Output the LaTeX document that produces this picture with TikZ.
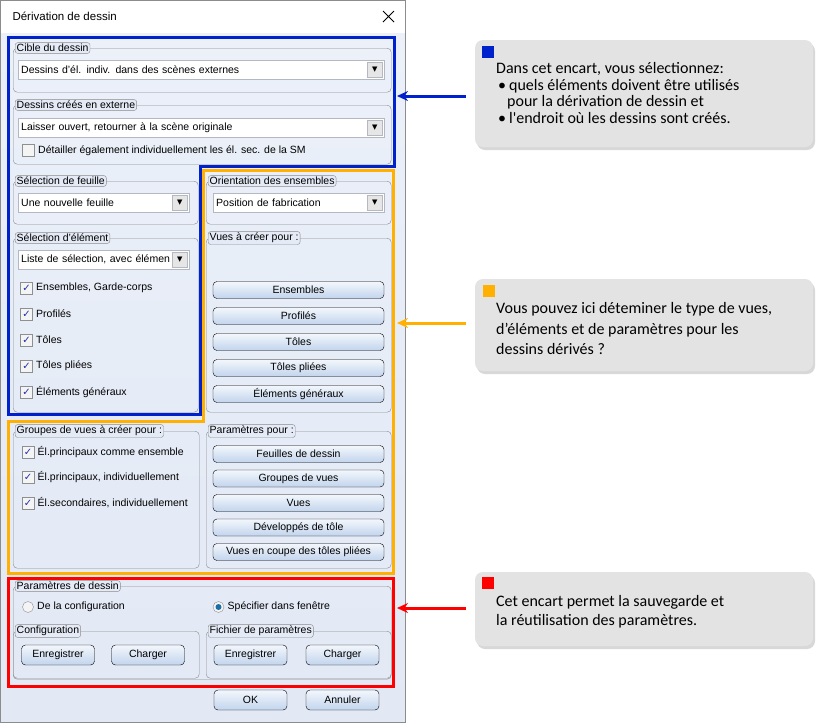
\documentclass[tikz,border=0pt]{standalone}
\usepackage{fontspec}
\setmainfont{Liberation Sans}
\newfontfamily\callfont{Carlito}
\newfontfamily\glyphfont{DejaVu Sans}
\usepackage{tikz}
\usetikzlibrary{shapes.geometric,arrows.meta,positioning,shadows}
\definecolor{hlblue}{HTML}{0022CC}
\definecolor{hlorange}{HTML}{FFB000}
\definecolor{hlred}{HTML}{FF0000}
\definecolor{wingray}{HTML}{8C8C8C}
\definecolor{framegray}{HTML}{8A8A8A}
\definecolor{bodytop}{HTML}{EBF0F9}
\definecolor{bodymid}{HTML}{D3DFF0}
\definecolor{bodybot}{HTML}{E2E9F5}
\definecolor{tabfill}{HTML}{E4EBF6}
\definecolor{combogray}{HTML}{B4B8C0}
\definecolor{ddfill}{HTML}{E6E6E6}
\definecolor{btntop}{HTML}{F3F7FC}
\definecolor{btnbot}{HTML}{C2D4ED}
\definecolor{chkgray}{HTML}{8E8F8F}
\definecolor{chkfill}{HTML}{F4F4F4}
\definecolor{chkblue}{HTML}{1E2FA8}
\definecolor{radioblue}{HTML}{1A6FA8}
\definecolor{callgray}{HTML}{E3E3E3}
\newcommand{\dlgsize}{\fontsize{10.5}{12}\selectfont}
\tikzstyle{dlgframe} = [rectangle, rounded corners=4pt, draw=framegray, anchor=north west, inner sep=0pt]
\tikzstyle{tab} = [rectangle, rounded corners=2.5pt, draw=framegray, fill=tabfill, anchor=west, inner xsep=1.5pt, inner ysep=1.5pt, font=\dlgsize]
\tikzstyle{combo} = [rectangle, draw=combogray, fill=white, anchor=north west, minimum height=19, inner xsep=3pt, align=left, font=\dlgsize]
\tikzstyle{ddbtn} = [rectangle, draw=combogray, fill=ddfill, minimum size=15, inner sep=0pt, font=\glyphfont\fontsize{7}{7}\selectfont]
\tikzstyle{lbl} = [font=\dlgsize]
\tikzstyle{chkbox} = [rectangle, draw=chkgray, fill=chkfill, minimum size=12, inner sep=0pt, label distance=0pt]
\tikzstyle{chkon} = [chkbox, text=chkblue, font=\glyphfont\fontsize{10}{10}\selectfont]
\tikzstyle{radio} = [circle, draw=chkgray, fill=chkfill, minimum size=11, inner sep=0pt]
\tikzstyle{radioon} = [radio, path picture={\fill[radioblue] (path picture bounding box.center) circle (3pt);}]
\tikzstyle{btn} = [rectangle, rounded corners=4pt, draw=black, top color=btntop, bottom color=btnbot, inner sep=0pt, font=\dlgsize]
\tikzstyle{vbtn} = [btn, minimum width=171, minimum height=17]
\tikzstyle{sbtn} = [btn, minimum width=73, minimum height=20]
\tikzstyle{hl} = [line width=3pt]
\tikzstyle{callout} = [rectangle, rounded corners=8pt, fill=callgray, minimum width=338, drop shadow={opacity=0.3, shadow xshift=2pt, shadow yshift=-3pt}]
\tikzstyle{marker} = [rectangle, minimum size=12, inner sep=0pt]
\tikzstyle{calltext} = [anchor=north west, align=left, inner sep=0pt, font=\callfont\fontsize{16}{16.7}\selectfont]
\tikzstyle{arrow} = [line width=3pt, ->, >={Stealth[length=11pt, width=10pt]}]

\begin{document}
\begin{tikzpicture}[x=1pt, y=-1pt, node distance=26pt]
\useasboundingbox (0,0) rectangle (823,724);
\fill [white] (0,0) rectangle (823,724);

% dialog window
\fill [top color=bodytop, middle color=bodymid, bottom color=bodybot] (1,33) rectangle (405,722);
\draw [wingray] (0.5,0.5) rectangle (405.5,722.5);
\node (title) [anchor=west, font=\fontsize{11.5}{13}\selectfont] at (9,16) {Dérivation de dessin};
\draw [line width=0.8pt] (383,11) -- (394,22) (383,22) -- (394,11);

% Cible du dessin
\node (fCible) [dlgframe, minimum width=378, minimum height=44] at (13,48) {};
\node (tCible) [tab] at ([xshift=2pt]fCible.north west) {Cible du dessin};
\node (cbCible) [combo, text width=360] at (18,60) {Dessins d’él. indiv. dans des scènes externes};
\node (ddCible) [ddbtn, left=2pt of cbCible.east] {▼};

% Dessins crees en externe
\node (fExterne) [dlgframe, minimum width=378, minimum height=59] at (13,105) {};
\node (tExterne) [tab] at ([xshift=2pt]fExterne.north west) {Dessins créés en externe};
\node (cbExterne) [combo, text width=360] at (18,118) {Laisser ouvert, retourner à la scène originale};
\node (ddExterne) [ddbtn, left=2pt of cbExterne.east] {▼};
\node (ckDetail) [chkbox, label={[lbl]right:Détailler également individuellement les él. sec. de la SM}] at (28.5,150.5) {};

% Selection de feuille / d'element
\node (fFeuille) [dlgframe, minimum width=185, minimum height=43] at (13,181) {};
\node (tFeuille) [tab] at ([xshift=2pt]fFeuille.north west) {Sélection de feuille};
\node (cbFeuille) [combo, text width=165] at (18,193) {Une nouvelle feuille};
\node (ddFeuille) [ddbtn, left=2pt of cbFeuille.east] {▼};

\node (fElement) [dlgframe, minimum width=185, minimum height=174] at (13,238) {};
\node (tElement) [tab] at ([xshift=2pt]fElement.north west) {Sélection d’élément};
\node (cbElement) [combo, text width=165] at (18,250) {Liste de sélection, avec élémen};
\node (ddElement) [ddbtn, left=2pt of cbElement.east] {▼};
\node (ckEns) [chkon, label={[lbl]right:{Ensembles, Garde-corps}}] at (26.5,288) {✓};
\node (ckProf) [chkon, below of=ckEns, label={[lbl]right:Profilés}] {✓};
\node (ckTol) [chkon, below of=ckProf, label={[lbl]right:Tôles}] {✓};
\node (ckTolP) [chkon, below of=ckTol, label={[lbl]right:Tôles pliées}] {✓};
\node (ckGen) [chkon, below of=ckTolP, label={[lbl]right:Éléments généraux}] {✓};

% Orientation / Vues a creer
\node (fOrient) [dlgframe, minimum width=185, minimum height=43] at (206,181) {};
\node (tOrient) [tab] at ([xshift=2pt]fOrient.north west) {Orientation des ensembles};
\node (cbOrient) [combo, text width=165] at (213,193) {Position de fabrication};
\node (ddOrient) [ddbtn, left=2pt of cbOrient.east] {▼};

\node (fVues) [dlgframe, minimum width=185, minimum height=174] at (206,238) {};
\node (tVues) [tab] at ([xshift=2pt]fVues.north west) {Vues à créer pour :};
\node (bEns) [vbtn] at (298.5,290) {Ensembles};
\node (bProf) [vbtn, below of=bEns] {Profilés};
\node (bTol) [vbtn, below of=bProf] {Tôles};
\node (bTolP) [vbtn, below of=bTol] {Tôles pliées};
\node (bGen) [vbtn, below of=bTolP] {Éléments généraux};

% Groupes de vues / Parametres pour
\node (fGroupes) [dlgframe, minimum width=186, minimum height=137] at (13,431) {};
\node (tGroupes) [tab] at ([xshift=2pt]fGroupes.north west) {Groupes de vues à créer pour :};
\node (ckPrinc) [chkon, label={[lbl]right:Él.principaux comme ensemble}] at (28,452) {✓};
\node (ckPrincI) [chkon, node distance=25.5pt, below of=ckPrinc, label={[lbl]right:{Él.principaux, individuellement}}] {✓};
\node (ckSecI) [chkon, node distance=25.5pt, below of=ckPrincI, label={[lbl]right:{Él.secondaires, individuellement}}] {✓};

\node (fParam) [dlgframe, minimum width=185, minimum height=137] at (206,431) {};
\node (tParam) [tab] at ([xshift=2pt]fParam.north west) {Paramètres pour :};
\node (bFeuilles) [vbtn] at (298.5,454) {Feuilles de dessin};
\node (bGroupes) [vbtn, node distance=24.5pt, below of=bFeuilles] {Groupes de vues};
\node (bVues) [vbtn, node distance=24.5pt, below of=bGroupes] {Vues};
\node (bDev) [vbtn, node distance=24.5pt, below of=bVues] {Développés de tôle};
\node (bCoupe) [vbtn, node distance=24.5pt, below of=bDev] {Vues en coupe des tôles pliées};

% Parametres de dessin
\node (fDessin) [dlgframe, minimum width=378, minimum height=93] at (13,586) {};
\node (tDessin) [tab] at ([xshift=2pt]fDessin.north west) {Paramètres de dessin};
\node (rConfig) [radio, label={[lbl]right:De la configuration}] at (28,607) {};
\node (rFenetre) [radioon, label={[lbl]right:Spécifier dans fenêtre}] at (218.5,607) {};
\node (fConfig) [dlgframe, minimum width=186, minimum height=47] at (13,631) {};
\node (tConfig) [tab] at ([xshift=2pt]fConfig.north west) {Configuration};
\node (fFichier) [dlgframe, minimum width=185, minimum height=47] at (206,631) {};
\node (tFichier) [tab] at ([xshift=2pt]fFichier.north west) {Fichier de paramètres};
\node (bEnrC) [sbtn] at (58,655) {Enregistrer};
\node (bChaC) [sbtn] at (148,655) {Charger};
\node (bEnrF) [sbtn] at (250.5,655) {Enregistrer};
\node (bChaF) [sbtn] at (342.5,655) {Charger};
\node (bOK) [sbtn] at (250.5,700) {OK};
\node (bAnnuler) [sbtn] at (342.5,700) {Annuler};

% highlighted areas
\draw [hl, hlblue] (8,37) -- (394,37) -- (394,166) -- (200,166) -- (200,414) -- (8,414) -- cycle;
\draw [hl, hlorange] (203,170) -- (393,170) -- (393,573) -- (8,573) -- (8,421) -- (203,421) -- cycle;
\draw [hl, hlred] (8,578) rectangle (393,686);

% callouts
\node (cBlue) [callout, minimum height=107] at (644,93.5) {};
\node (mBlue) [marker, fill=hlblue] at (488,51.5) {};
\node (xBlue) [calltext] at (496,62) {Dans cet encart, vous sélectionnez:\\
\hspace*{2pt}\textbullet\hspace{3pt}quels éléments doivent être utilisés\\
\hspace*{11pt}pour la dérivation de dessin et\\
\hspace*{2pt}\textbullet\hspace{3pt}l'endroit où les dessins sont créés.};
\coordinate (pBlue) at (397,96);
\draw [arrow, hlblue] (cBlue.west |- pBlue) ++(-9,0) -- (pBlue);

\node (cOrange) [callout, minimum height=92] at (644,325) {};
\node (mOrange) [marker, fill=hlorange] at (489,291) {};
\node (xOrange) [calltext, font=\callfont\fontsize{16}{20.8}\selectfont] at (496,302) {Vous pouvez ici déteminer le type de vues,\\
d’éléments et de paramètres pour les\\
dessins dérivés ?};
\coordinate (pOrange) at (397,323);
\draw [arrow, hlorange] (cOrange.west |- pOrange) ++(-9,0) -- (pOrange);

\node (cRed) [callout, minimum height=74] at (644,609) {};
\node (mRed) [marker, fill=hlred] at (488,582.5) {};
\node (xRed) [calltext, font=\callfont\fontsize{16}{19}\selectfont] at (496,595) {Cet encart permet la sauvegarde et\\
la réutilisation des paramètres.};
\coordinate (pRed) at (397,608);
\draw [arrow, hlred] (cRed.west |- pRed) ++(-9,0) -- (pRed);

\end{tikzpicture}
\end{document}
